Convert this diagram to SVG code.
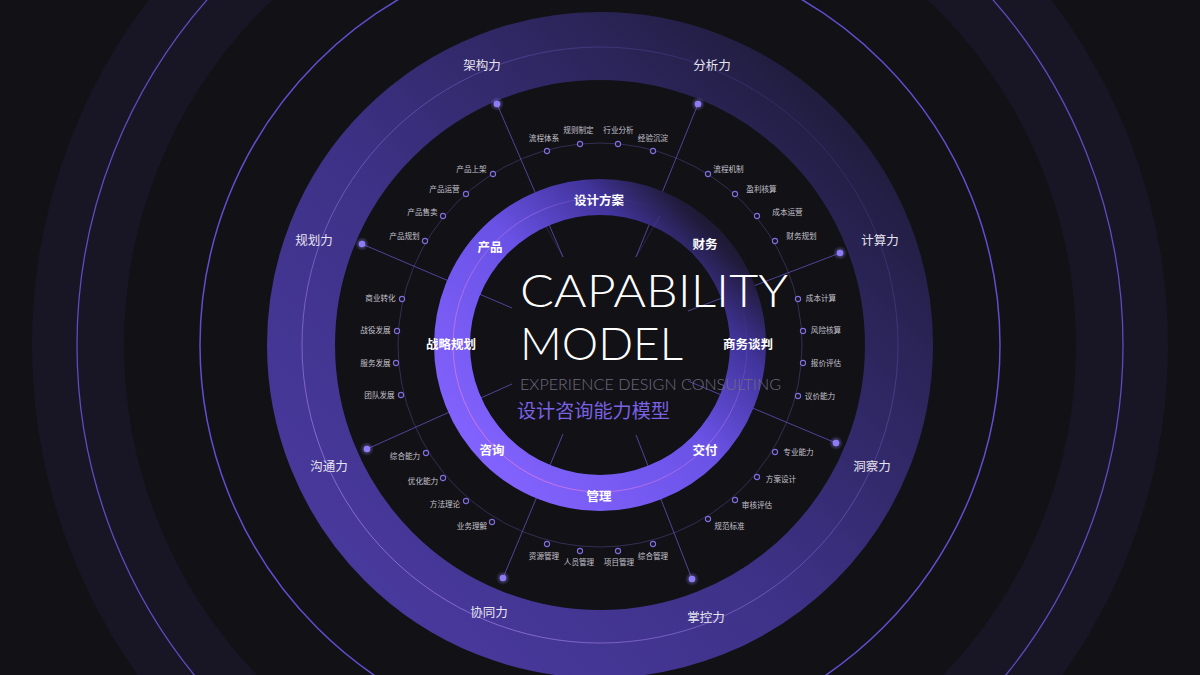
<svg xmlns="http://www.w3.org/2000/svg" width="1200" height="675" viewBox="0 0 1200 675">
<defs>
<linearGradient id="gInner" gradientUnits="userSpaceOnUse" x1="470" y1="470" x2="740" y2="210">
<stop offset="0" stop-color="#8464ff"/>
<stop offset="0.5" stop-color="#6a52e6"/>
<stop offset="0.75" stop-color="#41349c"/>
<stop offset="0.9" stop-color="#201b3a"/>
<stop offset="1" stop-color="#16141f"/>
</linearGradient>
<linearGradient id="gPink" gradientUnits="userSpaceOnUse" x1="470" y1="470" x2="740" y2="210">
<stop offset="0" stop-color="#e07ae8" stop-opacity="0.9"/>
<stop offset="0.6" stop-color="#a070e8" stop-opacity="0.6"/>
<stop offset="0.85" stop-color="#6050c0" stop-opacity="0"/>
</linearGradient>
<linearGradient id="gMid" gradientUnits="userSpaceOnUse" x1="330" y1="620" x2="870" y2="80">
<stop offset="0" stop-color="#4a3aa0"/>
<stop offset="0.45" stop-color="#3d3186"/>
<stop offset="0.8" stop-color="#2a2457"/>
<stop offset="1" stop-color="#1d1a34"/>
</linearGradient>
<linearGradient id="gMidLine" gradientUnits="userSpaceOnUse" x1="330" y1="620" x2="870" y2="80">
<stop offset="0" stop-color="#b08af0" stop-opacity="0.8"/>
<stop offset="0.6" stop-color="#8a70e0" stop-opacity="0.45"/>
<stop offset="1" stop-color="#6050c0" stop-opacity="0.15"/>
</linearGradient>
<radialGradient id="gDot">
<stop offset="0" stop-color="#9a88ff" stop-opacity="0.6"/>
<stop offset="1" stop-color="#9a88ff" stop-opacity="0"/>
</radialGradient>
</defs>
<style>
.cap{font-family:"Noto Sans CJK SC","Noto Sans",sans-serif;font-size:12.5px;fill:#e6e4ee;text-anchor:middle}
.inn{font-family:"Noto Sans CJK SC","Noto Sans",sans-serif;font-size:12.5px;font-weight:700;fill:#ffffff;text-anchor:middle}
.sm{font-family:"Noto Sans CJK SC","Noto Sans",sans-serif;font-size:7.6px;fill:#c4c2cc;text-anchor:middle}
.sd{fill:#15131c;stroke:#7f6fe0;stroke-width:1.1}
.bd{fill:#8c7cf6}
.halo{fill:url(#gDot)}
.ray{stroke:#6a5bd0;stroke-width:1;stroke-opacity:0.7;fill:none}
</style>
<rect x="0" y="0" width="1200" height="675" fill="#121116"/>
<g id="rings" fill="none">
<circle cx="600" cy="345" r="522" stroke="#181624" stroke-width="92"/>
<circle cx="600" cy="345" r="523" stroke="#5b4cc0" stroke-width="1.3"/>
<circle cx="600" cy="345" r="400" stroke="#5f4fd0" stroke-width="1.5"/>
<circle cx="600" cy="345" r="299" stroke="url(#gMid)" stroke-width="68"/>
<circle cx="600" cy="345" r="298" stroke="url(#gMidLine)" stroke-width="0.9"/>
<circle cx="600" cy="345" r="202" stroke="#4a427e" stroke-opacity="0.75" stroke-width="0.8"/>
</g>
<g id="connectors">
<line class="ray" x1="497" y1="104" x2="563" y2="257"/>
<line class="ray" x1="698" y1="104" x2="636" y2="257"/>
<line class="ray" x1="840" y1="253" x2="688" y2="311"/>
<line class="ray" x1="836" y1="443" x2="688" y2="381"/>
<line class="ray" x1="692" y1="579" x2="636" y2="435"/>
<line class="ray" x1="503" y1="578" x2="563" y2="434"/>
<line class="ray" x1="367" y1="449" x2="512" y2="384"/>
<line class="ray" x1="362" y1="244" x2="512" y2="308"/>
</g>
<g id="inner-ring" fill="none">
<circle cx="600" cy="345" r="148" stroke="url(#gInner)" stroke-width="36"/>
<circle cx="600" cy="345" r="147" stroke="url(#gPink)" stroke-width="1"/>
</g>
<g id="connectors-over" opacity="0.35">
<line class="ray" x1="540" y1="216" x2="563" y2="257"/>
<line class="ray" x1="660" y1="216" x2="636" y2="257"/>
</g>
<g id="title">
<text x="520" y="307" font-family="Lato,'Open Sans',sans-serif" font-weight="300" font-size="45" fill="#ffffff" textLength="268" lengthAdjust="spacingAndGlyphs">CAPABILITY</text>
<text x="520" y="360" font-family="Lato,'Open Sans',sans-serif" font-weight="300" font-size="45" fill="#ffffff" textLength="163" lengthAdjust="spacingAndGlyphs">MODEL</text>
<text x="520" y="390" font-family="Lato,'Open Sans',sans-serif" font-weight="300" font-size="16" fill="#6e6b80" textLength="261" lengthAdjust="spacingAndGlyphs">EXPERIENCE DESIGN CONSULTING</text>
<text x="517" y="418" font-family="'Noto Sans CJK SC',sans-serif" font-size="19" fill="#7a62e4" textLength="153" lengthAdjust="spacingAndGlyphs">设计咨询能力模型</text>
</g>
<g id="inner-labels">
<g id="sjfa"><text class="inn" x="599" y="204.5">设计方案</text></g>
<g id="cw"><text class="inn" x="705" y="249">财务</text></g>
<g id="swtp"><text class="inn" x="748" y="348.5">商务谈判</text></g>
<g id="jf"><text class="inn" x="705" y="454.5">交付</text></g>
<g id="gl"><text class="inn" x="599" y="500.5">管理</text></g>
<g id="zx"><text class="inn" x="492" y="454.5">咨询</text></g>
<g id="zlgh"><text class="inn" x="451" y="348.5">战略规划</text></g>
<g id="cp"><text class="inn" x="490" y="252">产品</text></g>
</g>
<g id="capabilities">
<g id="jgl"><circle class="halo" cx="497" cy="104" r="7"/><circle class="bd" cx="497" cy="104" r="3.3"/><text class="cap" x="482" y="69.5">架构力</text></g>
<g id="fxl"><circle class="halo" cx="698" cy="104" r="7"/><circle class="bd" cx="698" cy="104" r="3.3"/><text class="cap" x="712" y="69.5">分析力</text></g>
<g id="jsl"><circle class="halo" cx="840" cy="253" r="7"/><circle class="bd" cx="840" cy="253" r="3.3"/><text class="cap" x="880" y="245">计算力</text></g>
<g id="dcl"><circle class="halo" cx="836" cy="443" r="7"/><circle class="bd" cx="836" cy="443" r="3.3"/><text class="cap" x="872" y="470.5">洞察力</text></g>
<g id="zkl"><circle class="halo" cx="692" cy="579" r="7"/><circle class="bd" cx="692" cy="579" r="3.3"/><text class="cap" x="706" y="622">掌控力</text></g>
<g id="xtl"><circle class="halo" cx="503" cy="578" r="7"/><circle class="bd" cx="503" cy="578" r="3.3"/><text class="cap" x="489" y="617">协同力</text></g>
<g id="gtl"><circle class="halo" cx="367" cy="449" r="7"/><circle class="bd" cx="367" cy="449" r="3.3"/><text class="cap" x="329" y="470.5">沟通力</text></g>
<g id="ghl"><circle class="halo" cx="362" cy="244" r="7"/><circle class="bd" cx="362" cy="244" r="3.3"/><text class="cap" x="314" y="245">规划力</text></g>
</g>
<g id="items">
<g id="i1"><circle class="sd" cx="547" cy="151" r="2.6"/><text class="sm" x="544" y="141.2">流程体系</text></g>
<g id="i2"><circle class="sd" cx="580" cy="144" r="2.6"/><text class="sm" x="578.5" y="133.2">规则制定</text></g>
<g id="i3"><circle class="sd" cx="618" cy="144" r="2.6"/><text class="sm" x="618.5" y="133.2">行业分析</text></g>
<g id="i4"><circle class="sd" cx="653" cy="151" r="2.6"/><text class="sm" x="653" y="141.2">经验沉淀</text></g>
<g id="i5"><circle class="sd" cx="708" cy="174" r="2.6"/><text class="sm" x="728.5" y="172.2">流程机制</text></g>
<g id="i6"><circle class="sd" cx="735" cy="194" r="2.6"/><text class="sm" x="761.5" y="192.2">盈利核算</text></g>
<g id="i7"><circle class="sd" cx="757" cy="216" r="2.6"/><text class="sm" x="787.5" y="215.2">成本运营</text></g>
<g id="i8"><circle class="sd" cx="775" cy="241" r="2.6"/><text class="sm" x="801.5" y="239.2">财务规划</text></g>
<g id="i9"><circle class="sd" cx="798" cy="299" r="2.6"/><text class="sm" x="821" y="300.7">成本计算</text></g>
<g id="i10"><circle class="sd" cx="803" cy="331" r="2.6"/><text class="sm" x="826" y="332.7">风险核算</text></g>
<g id="i11"><circle class="sd" cx="803" cy="363" r="2.6"/><text class="sm" x="826" y="365.7">报价评估</text></g>
<g id="i12"><circle class="sd" cx="798" cy="396" r="2.6"/><text class="sm" x="820" y="398.7">议价能力</text></g>
<g id="i13"><circle class="sd" cx="775" cy="452" r="2.6"/><text class="sm" x="798.5" y="454.7">专业能力</text></g>
<g id="i14"><circle class="sd" cx="757" cy="477" r="2.6"/><text class="sm" x="781" y="481.7">方案设计</text></g>
<g id="i15"><circle class="sd" cx="735" cy="500" r="2.6"/><text class="sm" x="757" y="507.7">审核评估</text></g>
<g id="i16"><circle class="sd" cx="708" cy="519" r="2.6"/><text class="sm" x="729.5" y="528.7">规范标准</text></g>
<g id="i17"><circle class="sd" cx="547" cy="544" r="2.6"/><text class="sm" x="544" y="558.7">资源管理</text></g>
<g id="i18"><circle class="sd" cx="580" cy="551" r="2.6"/><text class="sm" x="579" y="564.7">人员管理</text></g>
<g id="i19"><circle class="sd" cx="618" cy="551" r="2.6"/><text class="sm" x="619" y="564.7">项目管理</text></g>
<g id="i20"><circle class="sd" cx="653" cy="544" r="2.6"/><text class="sm" x="653" y="558.7">综合管理</text></g>
<g id="i21"><circle class="sd" cx="426" cy="453" r="2.6"/><text class="sm" x="405" y="458.7">综合能力</text></g>
<g id="i22"><circle class="sd" cx="443" cy="478" r="2.6"/><text class="sm" x="423" y="483.7">优化能力</text></g>
<g id="i23"><circle class="sd" cx="466" cy="501" r="2.6"/><text class="sm" x="445" y="506.7">方法理论</text></g>
<g id="i24"><circle class="sd" cx="492" cy="522" r="2.6"/><text class="sm" x="472" y="528.7">业务理解</text></g>
<g id="i25"><circle class="sd" cx="402" cy="299" r="2.6"/><text class="sm" x="380.5" y="300.7">商业转化</text></g>
<g id="i26"><circle class="sd" cx="397" cy="331" r="2.6"/><text class="sm" x="375.5" y="332.7">战役发展</text></g>
<g id="i27"><circle class="sd" cx="396" cy="363" r="2.6"/><text class="sm" x="375.5" y="365.7">服务发展</text></g>
<g id="i28"><circle class="sd" cx="401" cy="395" r="2.6"/><text class="sm" x="379.5" y="397.7">团队发展</text></g>
<g id="i29"><circle class="sd" cx="493" cy="174" r="2.6"/><text class="sm" x="471.5" y="172.2">产品上架</text></g>
<g id="i30"><circle class="sd" cx="466" cy="194" r="2.6"/><text class="sm" x="444.5" y="192.2">产品运营</text></g>
<g id="i31"><circle class="sd" cx="443" cy="216" r="2.6"/><text class="sm" x="422.5" y="215.2">产品售卖</text></g>
<g id="i32"><circle class="sd" cx="425" cy="241" r="2.6"/><text class="sm" x="404.5" y="239.2">产品规划</text></g>
</g>
</svg>
